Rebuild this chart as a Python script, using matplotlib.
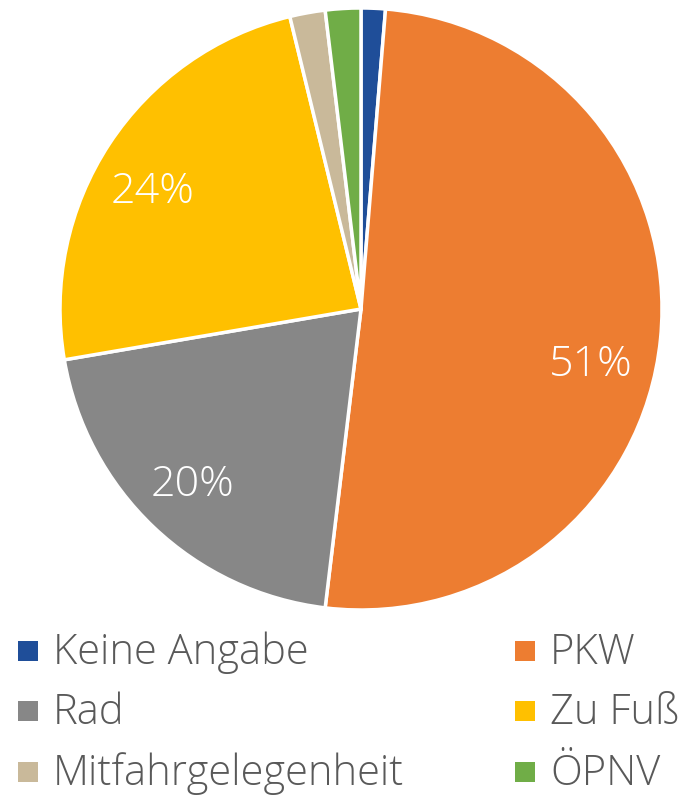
import matplotlib
matplotlib.use("Agg")
import matplotlib.pyplot as plt
from matplotlib.patches import Rectangle

categories = ["Keine Angabe", "PKW", "Rad", "Zu Fuß", "Mitfahrgelegenheit", "ÖPNV"]
values = [1.3, 50.6, 20.4, 23.9, 1.9, 1.9]
colors = ["#1F4E99", "#ED7D31", "#878787", "#FFC000", "#C9B99A", "#70AD47"]

plt.rcParams['font.family'] = ['Open Sans', 'DejaVu Sans']

W, H = 690, 796
fig = plt.figure(figsize=(W / 100, H / 100), dpi=100)

cx, cy, r = 361, 309, 301
ax = fig.add_axes([(cx - r) / W, (H - cy - r) / H, 2 * r / W, 2 * r / H])

def pct(p):
    return f"{p:.0f}%" if p >= 5 else ""

wedges, texts, autotexts = ax.pie(
    values, colors=colors, startangle=90, counterclock=False,
    autopct=pct, pctdistance=0.8, radius=1,
    wedgeprops=dict(edgecolor="white", linewidth=2.5),
    textprops=dict(color="white", fontsize=31, fontweight="light"))

# label placement as in the original (Excel-style best fit)
label_pos = {1: (0.764, -0.186), 2: (-0.561, -0.585), 3: (-0.694, 0.389)}
for i, t in enumerate(autotexts):
    if i in label_pos:
        t.set_position(label_pos[i])

ax.set_xlim(-1.0, 1.0)
ax.set_ylim(-1.0, 1.0)
ax.set_aspect("equal")
ax.axis("off")

# legend: two columns
col_x = [18, 515]
row_y = [651, 711, 772]
for i, (cat, col) in enumerate(zip(categories, colors)):
    c = i % 2
    rw = i // 2
    x0 = col_x[c]
    y0 = row_y[rw]
    fig.patches.append(Rectangle(((x0) / W, (H - y0 - 10) / H), 20 / W, 20 / H,
                                 transform=fig.transFigure, facecolor=col,
                                 edgecolor="none"))
    fig.text((x0 + 35) / W, (H - y0 - 2) / H, cat, fontsize=30, color="#595959",
             va="center", ha="left", fontweight="light")

fig.savefig("out.png", dpi=100)
